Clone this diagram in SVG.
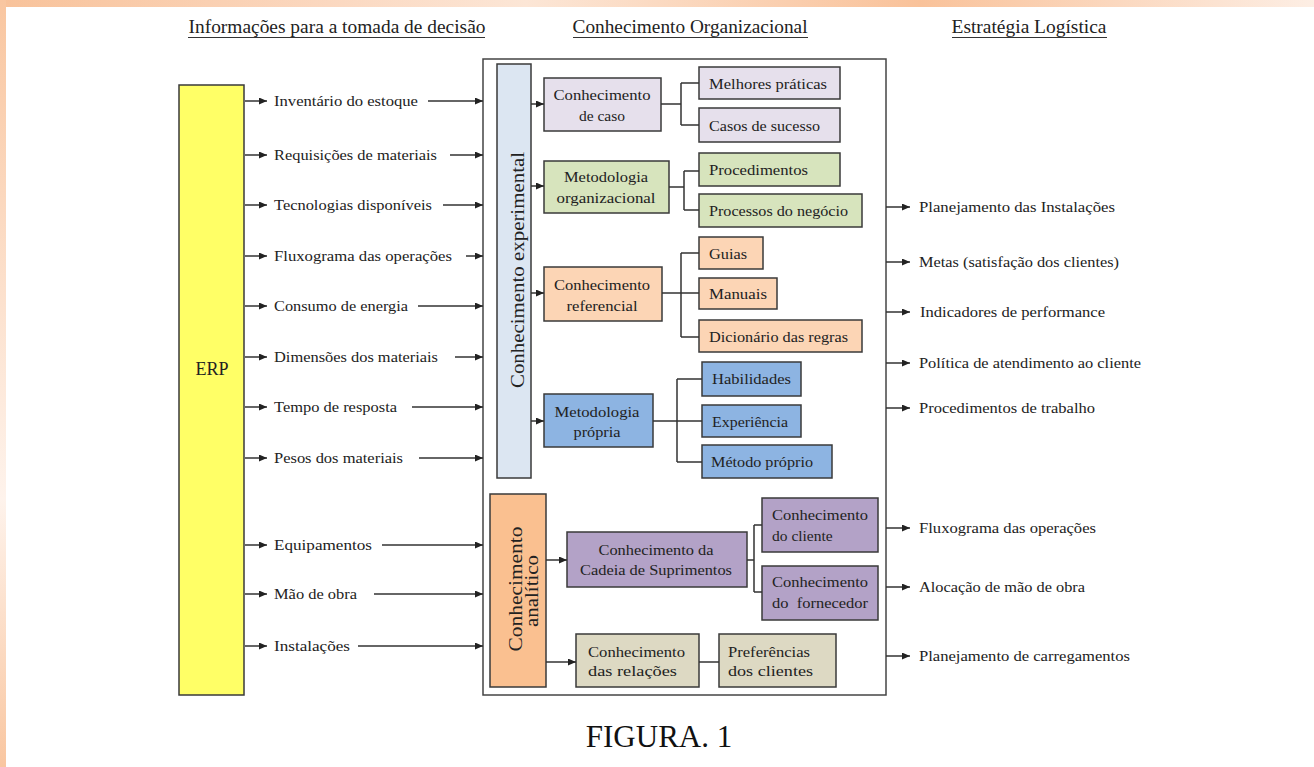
<svg xmlns="http://www.w3.org/2000/svg" width="1314" height="767" viewBox="0 0 1314 767">
<defs>
<linearGradient id="gTop" x1="0" y1="0" x2="1" y2="0">
<stop offset="0" stop-color="#F8C29A"/><stop offset="0.25" stop-color="#FBD8C0"/><stop offset="0.4" stop-color="#FCE6D6"/><stop offset="0.7" stop-color="#F9C29A"/><stop offset="1" stop-color="#FDEEE4"/>
</linearGradient>
<linearGradient id="gLeft" x1="0" y1="0" x2="0" y2="1">
<stop offset="0" stop-color="#F9C6A0"/><stop offset="0.65" stop-color="#FEF3EC"/><stop offset="1" stop-color="#F9C6A0"/>
</linearGradient>
<marker id="ah" markerUnits="userSpaceOnUse" markerWidth="8" markerHeight="7" refX="8" refY="3.5" orient="auto">
<path d="M0,0 L8,3.5 L0,7 z" fill="#222"/>
</marker>
<style>
text{font-family:"Liberation Serif","Times New Roman",serif;fill:#222}
.t{font-size:15.5px}
.b{font-size:15.5px;text-anchor:middle}
.h{font-size:18px;text-anchor:middle}
.bx{stroke:#3a3a3a;stroke-width:1.5}
.ln{stroke:#333;stroke-width:1.5;fill:none}
.ar{stroke:#333;stroke-width:1.5;fill:none;marker-end:url(#ah)}
</style>
</defs>
<rect width="1314" height="767" fill="#fff"/>
<rect x="0" y="0" width="1314" height="7" fill="url(#gTop)"/>
<rect x="0" y="0" width="6" height="767" fill="url(#gLeft)"/>

<g id="headers">
<text class="h" x="337" y="33" textLength="297" lengthAdjust="spacingAndGlyphs">Informações para a tomada de decisão</text>
<text class="h" x="690" y="33" textLength="235" lengthAdjust="spacingAndGlyphs">Conhecimento Organizacional</text>
<text class="h" x="1029" y="33" textLength="155" lengthAdjust="spacingAndGlyphs">Estratégia Logística</text>
<g stroke="#333" stroke-width="1">
<line x1="188" y1="37.5" x2="485" y2="37.5"/>
<line x1="573" y1="37.5" x2="808" y2="37.5"/>
<line x1="952" y1="37.5" x2="1107" y2="37.5"/>
</g>
</g>

<g id="erp">
<rect class="bx" x="179" y="85" width="65" height="610" fill="#FFFF66"/>
<text x="212" y="375" style="font-size:18px;text-anchor:middle">ERP</text>
</g>

<g id="inputs">
<text class="t" x="274" y="106" textLength="144" lengthAdjust="spacingAndGlyphs">Inventário do estoque</text>
<text class="t" x="274" y="160" textLength="163" lengthAdjust="spacingAndGlyphs">Requisições de materiais</text>
<text class="t" x="274" y="210" textLength="158" lengthAdjust="spacingAndGlyphs">Tecnologias disponíveis</text>
<text class="t" x="274" y="261" textLength="178" lengthAdjust="spacingAndGlyphs">Fluxograma das operações</text>
<text class="t" x="274" y="311" textLength="134" lengthAdjust="spacingAndGlyphs">Consumo de energia</text>
<text class="t" x="274" y="362" textLength="164" lengthAdjust="spacingAndGlyphs">Dimensões dos materiais</text>
<text class="t" x="274" y="412" textLength="123" lengthAdjust="spacingAndGlyphs">Tempo de resposta</text>
<text class="t" x="274" y="463" textLength="129" lengthAdjust="spacingAndGlyphs">Pesos dos materiais</text>
<text class="t" x="274" y="550" textLength="98" lengthAdjust="spacingAndGlyphs">Equipamentos</text>
<text class="t" x="274" y="599" textLength="83" lengthAdjust="spacingAndGlyphs">Mão de obra</text>
<text class="t" x="274" y="651" textLength="76" lengthAdjust="spacingAndGlyphs">Instalações</text>
</g>

<g id="outputs">
<text class="t" x="919" y="212" textLength="196" lengthAdjust="spacingAndGlyphs">Planejamento das Instalações</text>
<text class="t" x="919" y="267" textLength="200" lengthAdjust="spacingAndGlyphs">Metas (satisfação dos clientes)</text>
<text class="t" x="920" y="317" textLength="185" lengthAdjust="spacingAndGlyphs">Indicadores de performance</text>
<text class="t" x="919" y="368" textLength="222" lengthAdjust="spacingAndGlyphs">Política de atendimento ao cliente</text>
<text class="t" x="919" y="413" textLength="176" lengthAdjust="spacingAndGlyphs">Procedimentos de trabalho</text>
<text class="t" x="919" y="533" textLength="177" lengthAdjust="spacingAndGlyphs">Fluxograma das operações</text>
<text class="t" x="919" y="592" textLength="166" lengthAdjust="spacingAndGlyphs">Alocação de mão de obra</text>
<text class="t" x="919" y="661" textLength="211" lengthAdjust="spacingAndGlyphs">Planejamento de carregamentos</text>
</g>

<g id="conhecimento-organizacional">
<rect x="483" y="59" width="403" height="636" fill="#fff" stroke="#444" stroke-width="1.5"/>
</g>

<g id="conhecimento-experimental">
<rect class="bx" x="497" y="64" width="34" height="414" fill="#DCE6F2"/>
<text transform="translate(524,270) rotate(-90)" style="font-size:19px;text-anchor:middle" textLength="236" lengthAdjust="spacingAndGlyphs">Conhecimento experimental</text>
</g>

<g id="conhecimento-analitico">
<rect class="bx" x="490" y="494" width="56" height="193" fill="#FAC090"/>
<text transform="translate(522,589) rotate(-90)" style="font-size:19px;text-anchor:middle" textLength="125" lengthAdjust="spacingAndGlyphs">Conhecimento</text>
<text transform="translate(538,591) rotate(-90)" style="font-size:19px;text-anchor:middle" textLength="72" lengthAdjust="spacingAndGlyphs">analítico</text>
</g>

<g id="conhecimento-de-caso">
<rect class="bx" x="544" y="78" width="117" height="53" fill="#E6E0EC"/>
<text class="b" x="602" y="100" textLength="97" lengthAdjust="spacingAndGlyphs">Conhecimento</text>
<text class="b" x="602" y="121">de caso</text>
</g>
<g id="melhores-praticas">
<rect class="bx" x="699" y="67" width="141" height="32" fill="#E6E0EC"/>
<text class="t" x="709" y="89" textLength="118" lengthAdjust="spacingAndGlyphs">Melhores práticas</text>
</g>
<g id="casos-de-sucesso">
<rect class="bx" x="699" y="108" width="141" height="34" fill="#E6E0EC"/>
<text class="t" x="709" y="131" textLength="111" lengthAdjust="spacingAndGlyphs">Casos de sucesso</text>
</g>

<g id="metodologia-organizacional">
<rect class="bx" x="544" y="161" width="125" height="52" fill="#D7E4BD"/>
<text class="b" x="606" y="182" textLength="84" lengthAdjust="spacingAndGlyphs">Metodologia</text>
<text class="b" x="606" y="203" textLength="99" lengthAdjust="spacingAndGlyphs">organizacional</text>
</g>
<g id="procedimentos">
<rect class="bx" x="699" y="153" width="141" height="33" fill="#D7E4BD"/>
<text class="t" x="709" y="175" textLength="99" lengthAdjust="spacingAndGlyphs">Procedimentos</text>
</g>
<g id="processos-do-negocio">
<rect class="bx" x="699" y="194" width="163" height="33" fill="#D7E4BD"/>
<text class="t" x="709" y="216" textLength="139" lengthAdjust="spacingAndGlyphs">Processos do negócio</text>
</g>

<g id="conhecimento-referencial">
<rect class="bx" x="544" y="267" width="118" height="54" fill="#FCD5B5"/>
<text class="b" x="602" y="290" textLength="96" lengthAdjust="spacingAndGlyphs">Conhecimento</text>
<text class="b" x="602" y="311" textLength="71" lengthAdjust="spacingAndGlyphs">referencial</text>
</g>
<g id="guias">
<rect class="bx" x="699" y="237" width="64" height="32" fill="#FCD5B5"/>
<text class="t" x="709" y="259" textLength="38" lengthAdjust="spacingAndGlyphs">Guias</text>
</g>
<g id="manuais">
<rect class="bx" x="699" y="278" width="78" height="31" fill="#FCD5B5"/>
<text class="t" x="709" y="299" textLength="58" lengthAdjust="spacingAndGlyphs">Manuais</text>
</g>
<g id="dicionario-das-regras">
<rect class="bx" x="699" y="320" width="163" height="32" fill="#FCD5B5"/>
<text class="t" x="709" y="342" textLength="139" lengthAdjust="spacingAndGlyphs">Dicionário das regras</text>
</g>

<g id="metodologia-propria">
<rect class="bx" x="544" y="394" width="109" height="53" fill="#8DB4E2"/>
<text class="b" x="597" y="417" textLength="85" lengthAdjust="spacingAndGlyphs">Metodologia</text>
<text class="b" x="597" y="437" textLength="47" lengthAdjust="spacingAndGlyphs">própria</text>
</g>
<g id="habilidades">
<rect class="bx" x="702" y="362" width="99" height="34" fill="#8DB4E2"/>
<text class="t" x="712" y="384" textLength="79" lengthAdjust="spacingAndGlyphs">Habilidades</text>
</g>
<g id="experiencia">
<rect class="bx" x="702" y="405" width="99" height="32" fill="#8DB4E2"/>
<text class="t" x="712" y="427" textLength="76" lengthAdjust="spacingAndGlyphs">Experiência</text>
</g>
<g id="metodo-proprio">
<rect class="bx" x="702" y="445" width="130" height="33" fill="#8DB4E2"/>
<text class="t" x="711" y="467" textLength="102" lengthAdjust="spacingAndGlyphs">Método próprio</text>
</g>

<g id="cadeia-de-suprimentos">
<rect class="bx" x="567" y="532" width="180" height="55" fill="#B3A2C7"/>
<text class="b" x="656" y="555" textLength="115" lengthAdjust="spacingAndGlyphs">Conhecimento da</text>
<text class="b" x="656" y="575" textLength="152" lengthAdjust="spacingAndGlyphs">Cadeia de Suprimentos</text>
</g>
<g id="conhecimento-do-cliente">
<rect class="bx" x="762" y="498" width="116" height="54" fill="#B3A2C7"/>
<text class="t" x="772" y="520" textLength="96" lengthAdjust="spacingAndGlyphs">Conhecimento</text>
<text class="t" x="772" y="541">do cliente</text>
</g>
<g id="conhecimento-do-fornecedor">
<rect class="bx" x="762" y="566" width="116" height="54" fill="#B3A2C7"/>
<text class="t" x="772" y="587" textLength="96" lengthAdjust="spacingAndGlyphs">Conhecimento</text>
<text class="t" x="772" y="608" textLength="96" lengthAdjust="spacingAndGlyphs" xml:space="preserve">do  fornecedor</text>
</g>

<g id="conhecimento-das-relacoes">
<rect class="bx" x="576" y="634" width="123" height="53" fill="#DDD9C3"/>
<text class="t" x="588" y="657" textLength="97" lengthAdjust="spacingAndGlyphs">Conhecimento</text>
<text class="t" x="588" y="676" textLength="89" lengthAdjust="spacingAndGlyphs">das relações</text>
</g>
<g id="preferencias-dos-clientes">
<rect class="bx" x="719" y="634" width="117" height="53" fill="#DDD9C3"/>
<text class="t" x="728" y="657" textLength="82" lengthAdjust="spacingAndGlyphs">Preferências</text>
<text class="t" x="728" y="676" textLength="85" lengthAdjust="spacingAndGlyphs">dos clientes</text>
</g>

<g id="connectors">
<line class="ar" x1="245" y1="101" x2="267" y2="101"/>
<line class="ar" x1="245" y1="155" x2="267" y2="155"/>
<line class="ar" x1="245" y1="205" x2="267" y2="205"/>
<line class="ar" x1="245" y1="256" x2="267" y2="256"/>
<line class="ar" x1="245" y1="306" x2="267" y2="306"/>
<line class="ar" x1="245" y1="357" x2="267" y2="357"/>
<line class="ar" x1="245" y1="407" x2="267" y2="407"/>
<line class="ar" x1="245" y1="458" x2="267" y2="458"/>
<line class="ar" x1="245" y1="545" x2="267" y2="545"/>
<line class="ar" x1="245" y1="594" x2="267" y2="594"/>
<line class="ar" x1="245" y1="646" x2="267" y2="646"/>
<line class="ar" x1="428" y1="101" x2="483" y2="101"/>
<line class="ar" x1="450" y1="155" x2="483" y2="155"/>
<line class="ar" x1="443" y1="205" x2="483" y2="205"/>
<line class="ar" x1="466" y1="256" x2="483" y2="256"/>
<line class="ar" x1="418" y1="306" x2="483" y2="306"/>
<line class="ar" x1="455" y1="357" x2="483" y2="357"/>
<line class="ar" x1="412" y1="407" x2="483" y2="407"/>
<line class="ar" x1="419" y1="458" x2="483" y2="458"/>
<line class="ar" x1="382" y1="545" x2="483" y2="545"/>
<line class="ar" x1="374" y1="594" x2="483" y2="594"/>
<line class="ar" x1="358" y1="646" x2="483" y2="646"/>
<line class="ar" x1="886" y1="207" x2="910" y2="207"/>
<line class="ar" x1="886" y1="262" x2="910" y2="262"/>
<line class="ar" x1="886" y1="312" x2="910" y2="312"/>
<line class="ar" x1="886" y1="363" x2="910" y2="363"/>
<line class="ar" x1="886" y1="408" x2="910" y2="408"/>
<line class="ar" x1="886" y1="528" x2="910" y2="528"/>
<line class="ar" x1="886" y1="587" x2="910" y2="587"/>
<line class="ar" x1="886" y1="656" x2="910" y2="656"/>
<line class="ar" x1="531" y1="104" x2="544" y2="104"/>
<line class="ar" x1="531" y1="186" x2="544" y2="186"/>
<line class="ar" x1="531" y1="293" x2="544" y2="293"/>
<line class="ar" x1="531" y1="421" x2="544" y2="421"/>
<line class="ar" x1="546" y1="560" x2="567" y2="560"/>
<line class="ar" x1="546" y1="662" x2="576" y2="662"/>
<path class="ln" d="M661,104 H681 M681,83 V125 M681,83 H699 M681,125 H699"/>
<path class="ln" d="M669,187 H684 M684,171 V210 M684,171 H699 M684,210 H699"/>
<path class="ln" d="M662,293 H699 M681,253 V337 M681,253 H699 M681,337 H699"/>
<path class="ln" d="M653,421 H702 M677,379 V462 M677,379 H702 M677,462 H702"/>
<path class="ln" d="M747,560 H754 M754,525 V592 M754,525 H762 M754,592 H762"/>
<line class="ln" x1="699" y1="662" x2="719" y2="662"/>
</g>

<text x="659" y="747" style="font-size:31px;text-anchor:middle;fill:#111">FIGURA. 1</text>
</svg>
